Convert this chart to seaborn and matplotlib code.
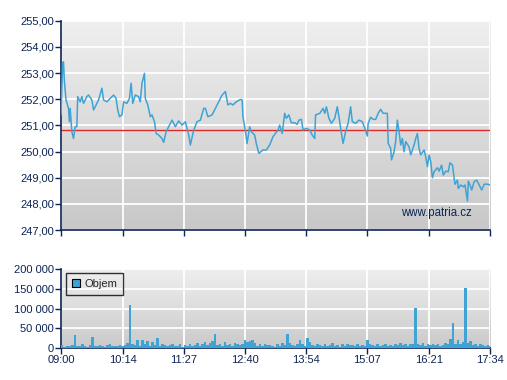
import numpy as np
import pandas as pd
import matplotlib
matplotlib.use("Agg")
import matplotlib.pyplot as plt
import seaborn as sns

# price line: minutes after 09:00 and price
price_min = [0, 2, 3, 4, 6, 9, 10, 11, 13, 15, 17, 19, 20, 23, 25, 27, 31, 33, 37, 39,
             41, 43, 45, 49, 51, 55, 59, 63, 66, 68, 70, 73, 75, 79, 82, 84, 86, 89, 93, 95,
             97, 100, 101, 104, 107, 109, 112, 114, 117, 121, 123, 126, 129, 133, 137, 141, 145, 149, 151, 153,
             155, 159, 163, 167, 171, 173, 176, 181, 185, 187, 191, 193, 197, 200, 203, 206, 210, 215, 217, 218,
             221, 223, 226, 228, 232, 234, 237, 242, 246, 250, 254, 260, 262, 265, 268, 270, 273, 276, 280, 283,
             285, 288, 290, 294, 298, 301, 304, 305, 310, 314, 316, 318, 321, 324, 328, 331, 333, 336, 338, 341,
             344, 347, 349, 353, 357, 361, 364, 367, 368, 371, 374, 377, 380, 383, 386, 391, 392, 395, 396, 399,
             401, 403, 405, 407, 409, 411, 413, 417, 419, 423, 425, 427, 429, 431, 435, 437, 439, 441, 443, 445,
             447, 451, 453, 456, 458, 461, 464, 466, 469, 472, 475, 476, 479, 482, 484, 487, 488, 490, 492, 495,
             498, 501, 504, 507, 511, 514]
price_val = [251.40, 253.37, 253.43, 252.73, 251.97, 251.65, 251.14, 251.65, 250.76, 250.50, 250.95, 250.95, 252.10, 251.90, 252.10, 251.84, 252.10, 252.16, 251.97, 251.59,
             251.71, 251.84, 251.97, 252.42, 251.97, 251.90, 252.03, 252.16, 252.03, 251.59, 251.33, 251.40, 251.90, 251.84, 252.03, 252.61, 251.84, 252.16, 252.10, 251.90,
             252.61, 252.99, 252.03, 251.78, 251.33, 251.40, 251.14, 250.69, 250.63, 250.50, 250.35, 250.76, 250.95, 251.20, 250.95, 251.17, 251.01, 251.14, 250.89, 250.63,
             250.25, 250.82, 251.14, 251.20, 251.65, 251.65, 251.33, 251.40, 251.65, 251.78, 252.03, 252.16, 252.29, 251.78, 251.84, 251.78, 251.90, 251.99, 251.97, 251.33,
             250.76, 250.31, 250.95, 250.76, 250.63, 250.31, 249.93, 250.06, 250.06, 250.25, 250.57, 250.82, 251.01, 250.69, 251.46, 251.27, 251.40, 251.10, 251.10, 251.04,
             251.20, 251.23, 250.82, 250.89, 250.82, 250.63, 250.50, 251.40, 251.46, 251.65, 251.46, 251.71, 251.27, 251.08, 251.27, 251.71, 251.33, 250.69, 250.31, 250.76,
             251.08, 251.71, 251.14, 251.08, 251.20, 251.14, 250.89, 250.59, 251.08, 251.31, 251.23, 251.23, 251.46, 251.61, 251.46, 251.46, 250.31, 250.12, 249.68, 249.99,
             250.38, 251.20, 250.76, 250.25, 250.50, 249.99, 250.38, 250.18, 249.87, 250.25, 250.50, 250.69, 250.12, 249.87, 250.06, 249.80, 249.42, 249.87, 249.61, 249.00,
             249.23, 249.38, 249.25, 249.48, 249.10, 249.25, 249.23, 249.57, 249.48, 248.75, 248.91, 248.59, 248.72, 248.65, 248.72, 248.11, 248.87, 248.72, 248.53, 248.85,
             248.91, 248.72, 248.53, 248.75, 248.75, 248.72]
ref_price = 250.81

# volume in thousands, 3 minute bins from 09:00
volume_k = [8, 4, 6, 5, 9, 33, 7, 5, 10, 6, 4, 8,
            28, 6, 5, 9, 7, 4, 8, 10, 6, 5, 7, 9,
            5, 8, 14, 109, 12, 9, 20, 6, 22, 10, 18, 7,
            15, 9, 26, 6, 12, 8, 5, 9, 11, 7, 6, 10,
            4, 8, 6, 12, 5, 9, 14, 7, 10, 16, 9, 13,
            18, 36, 8, 12, 6, 17, 9, 11, 7, 14, 10, 8,
            12, 20, 15, 19, 22, 13, 7, 10, 5, 12, 8, 9,
            6, 4, 11, 7, 13, 8, 36, 14, 9, 5, 12, 22,
            10, 7, 25, 16, 9, 6, 12, 8, 5, 10, 7, 9,
            13, 6, 9, 4, 11, 7, 12, 8, 9, 6, 10, 5,
            9, 7, 21, 12, 8, 6, 10, 5, 9, 12, 7, 8,
            6, 10, 8, 13, 9, 11, 7, 12, 10, 101, 12, 8,
            14, 6, 10, 9, 12, 8, 11, 5, 9, 13, 10, 24,
            63, 12, 20, 10, 17, 151, 14, 18, 9, 12, 7, 10,
            8, 6, 9, 5]

tick_labels = ["09:00", "10:14", "11:27", "12:40", "13:54", "15:07", "16:21", "17:34"]

price_ticks = [247, 248, 249, 250, 251, 252, 253, 254, 255]
vol_ticks = [0, 50000, 100000, 150000, 200000]

navy = "#0c2456"
blue = "#3fa3d4"

sns.set_style("white")
plt.rcParams["font.family"] = ["Liberation Sans", "DejaVu Sans"]


def tick_pos(label):
    h, m = label.split(":")
    return (int(h) - 9) * 60 + int(m)


xt = [tick_pos(t) for t in tick_labels]
xmax = xt[-1]

price_df = pd.DataFrame({"minute": price_min, "price": price_val})
vol_df = pd.DataFrame({"minute": np.arange(len(volume_k)) * 3 + 1.5,
                       "volume": np.array(volume_k) * 1000})


def gradient_bg(ax, top, bottom):
    grad = np.linspace(0, 1, 256).reshape(-1, 1)
    cmap = matplotlib.colors.LinearSegmentedColormap.from_list("bg", [top, bottom])
    ax.imshow(grad, aspect="auto", cmap=cmap, extent=(0, 1, 0, 1),
              transform=ax.transAxes, zorder=0)


def style_axes(ax):
    for s in ["top", "right"]:
        ax.spines[s].set_visible(False)
    for s in ["left", "bottom"]:
        ax.spines[s].set_color(navy)
        ax.spines[s].set_linewidth(1.2)
    ax.grid(True, color="white", linewidth=1.3)
    ax.tick_params(axis="both", direction="out", length=4, width=1, color=navy,
                   labelcolor=navy, labelsize=8, left=True, bottom=True, pad=1)
    ax.set_xlabel("")
    ax.set_ylabel("")
    for gl in ax.get_xgridlines() + ax.get_ygridlines():
        gl.set_zorder(1)


fig = plt.figure(figsize=(5.07, 3.80), dpi=100)
ax1 = fig.add_axes([0.1203, 0.3947, 0.8462, 0.5508])
ax2 = fig.add_axes([0.1203, 0.0834, 0.8462, 0.2087])

# price chart
gradient_bg(ax1, "#efefef", "#c8c8c8")
sns.lineplot(data=price_df, x="minute", y="price", ax=ax1, color=blue,
             linewidth=1.1, zorder=3)
ax1.axhline(ref_price, color="#e02828", linewidth=1.0, zorder=2)
ax1.set_xlim(0, xmax)
ax1.set_ylim(247, 255)
ax1.set_yticks(price_ticks)
ax1.set_yticklabels([f"{v:.2f}".replace(".", ",") for v in price_ticks])
ax1.set_xticks(xt)
ax1.set_xticklabels([])
style_axes(ax1)
ax1.text(0.958, 0.08, "www.patria.cz", transform=ax1.transAxes, ha="right",
         va="center", color=navy, fontsize=8.3)

# volume chart
gradient_bg(ax2, "#efefef", "#cacaca")
sns.histplot(data=vol_df, x="minute", weights="volume", ax=ax2,
             binwidth=3, binrange=(0, len(volume_k) * 3), color=blue,
             alpha=1, edgecolor="none", linewidth=0, label="Objem", zorder=3)
ax2.set_xlim(0, xmax)
ax2.set_ylim(0, 200000)
ax2.set_yticks(vol_ticks)
ax2.set_yticklabels([f"{v:,}".replace(",", " ") for v in vol_ticks])
ax2.set_xticks(xt)
ax2.set_xticklabels(tick_labels)
style_axes(ax2)
leg = ax2.legend(loc="upper left", bbox_to_anchor=(0.012, 0.95), fontsize=8,
                 frameon=True, fancybox=False, handlelength=0.7, handleheight=0.7,
                 handletextpad=0.4, borderpad=0.55, borderaxespad=0)
leg.get_frame().set_edgecolor("black")
leg.get_frame().set_facecolor("none")
leg.get_frame().set_linewidth(1)
for h in leg.legend_handles:
    h.set_edgecolor("black")
    h.set_linewidth(0.8)

fig.savefig("out.png", dpi=100)
